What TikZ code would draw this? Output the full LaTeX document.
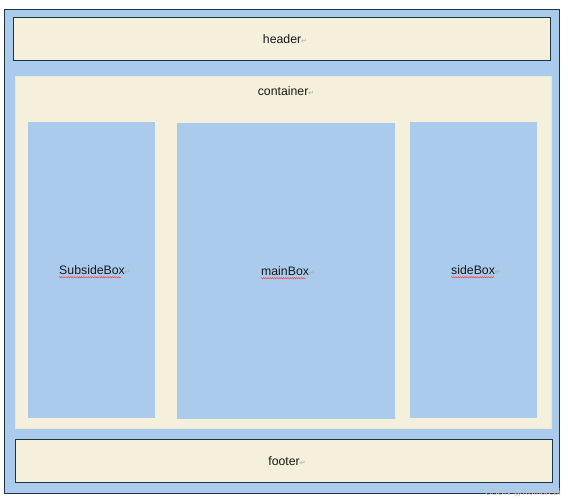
\documentclass[tikz,border=0pt]{standalone}
\usepackage{fontspec}
\setmainfont{Liberation Sans}
\newfontfamily\symfont{DejaVu Sans}
\usetikzlibrary{decorations.pathmorphing}
\definecolor{lblue}{HTML}{ABCBEC}
\definecolor{cream}{HTML}{F5F0DB}
\definecolor{edge}{HTML}{1E3442}
\newcommand{\rmk}{{\symfont\color{gray!70}\fontsize{7}{8}\selectfont ↵}}
\begin{document}
\begin{tikzpicture}[x=1pt,y=-1pt,
  outerbox/.style={draw=edge,line width=1pt,fill=lblue},
  bandbox/.style={draw=edge,line width=1.4pt,fill=cream},
  contbox/.style={fill=cream,draw=cream!80!lblue,line width=0.6pt},
  colbox/.style={fill=lblue},
  lbl/.style={font=\fontsize{12.3}{14}\selectfont,inner sep=0pt,text=black!90},
  squig/.style={draw=red!75,line width=0.5pt,decorate,decoration={zigzag,amplitude=0.6pt,segment length=2.2pt}}]
\useasboundingbox (0,0) rectangle (568,500);
\fill[white] (0,0) rectangle (568,500);
\draw[outerbox] (4,10) rectangle (559,493);
\node[bandbox,minimum width=537pt,minimum height=43pt,anchor=north west] (header) at (13,17) {};
\node[contbox,minimum width=536pt,minimum height=352pt,anchor=north west] (container) at (15,76) {};
\node[bandbox,minimum width=537pt,minimum height=43pt,anchor=north west] (footer) at (15,439) {};
\node[colbox,minimum width=127pt,minimum height=296pt,anchor=north west] (subside) at (28,122) {};
\node[colbox,minimum width=218pt,minimum height=296pt,anchor=north west] (main) at (177,123) {};
\node[colbox,minimum width=127pt,minimum height=296pt,anchor=north west] (side) at (410,122) {};
\node[lbl] (headerlbl) at (285,39) {header\rmk};
\node[lbl] (contlbl) at (286,91) {container\rmk};
\node[lbl] (footerlbl) at (287,461) {footer\rmk};
\node[lbl] (subl) at (95,270) {SubsideBox\rmk};
\node[lbl] (mainl) at (288,271) {mainBox\rmk};
\node[lbl] (sidel) at (476,270) {sideBox\rmk};
\draw[squig] ([yshift=-2.5pt]subl.south west) -- ++(62,0);
\draw[squig] ([yshift=-2.5pt]mainl.south west) -- ++(45,0);
\draw[squig] ([yshift=-2.5pt]sidel.south west) -- ++(43,0);
\node[font=\fontsize{9}{10}\selectfont,text=gray!45,anchor=south east,inner sep=0pt] (wm) at (561,497) {CSDN @Komorebi};
\end{tikzpicture}
\end{document}
